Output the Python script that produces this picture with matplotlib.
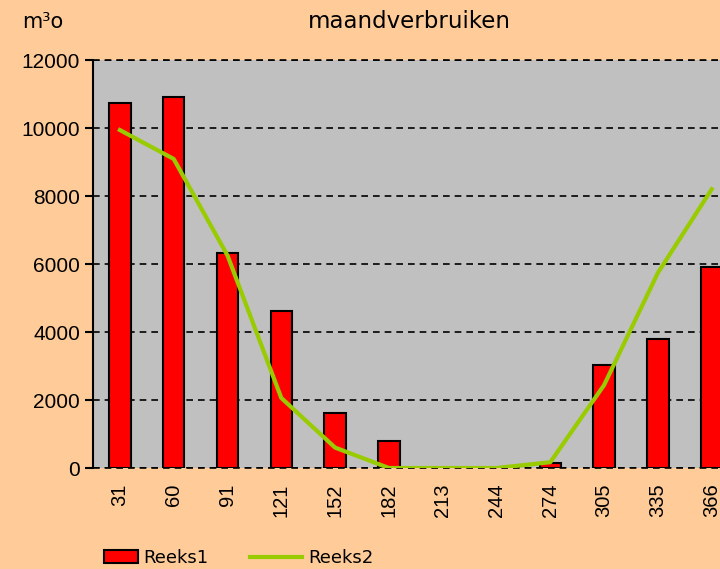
import numpy as np
import matplotlib
matplotlib.use('Agg')
import matplotlib.pyplot as plt
from matplotlib.patches import Patch
from matplotlib.lines import Line2D

# day-of-year labels and monthly consumption
days = ['31', '60', '91', '121', '152', '182', '213', '244', '274', '305', '335', '366']
reeks1 = [10750, 10920, 6320, 4620, 1620, 790, 0, 0, 150, 3030, 3790, 5910]
reeks2 = [9940, 9090, 6250, 2060, 600, 0, 0, 0, 170, 2440, 5740, 8200]

peach = '#FFCC99'
grey = '#C0C0C0'
red = '#FF0000'
green = '#99CC00'

fig = plt.figure(figsize=(7.2, 5.69), dpi=100, facecolor=peach)
ax = fig.add_axes([93 / 720, 1 - 468 / 569, 12 * 53.8 / 720, 408 / 569])
ax.set_facecolor(grey)

x = np.arange(len(days))
ax.bar(x, reeks1, width=0.4, color=red, edgecolor='black', linewidth=1.5, zorder=3)
ax.plot(x, reeks2, color=green, linewidth=3, zorder=4)

ax.set_xlim(-0.5, len(days) - 0.5)
ax.set_ylim(0, 12000)
ax.set_yticks(np.arange(0, 12001, 2000))
ax.set_xticks(x)
ax.set_xticklabels(days, rotation=90, fontsize=14.5, family='Liberation Sans')
ax.tick_params(axis='x', length=0, pad=11)
ax.tick_params(axis='y', direction='out', length=5.8, width=1.5, labelsize=15, pad=3.6)
for lbl in ax.get_yticklabels():
    lbl.set_family('Liberation Sans')

ax.yaxis.grid(True, color='black', linestyle=(0, (4, 3)), linewidth=1.2, zorder=1)
ax.set_axisbelow(True)
for s in ['top', 'right', 'bottom']:
    ax.spines[s].set_visible(False)
ax.spines['left'].set_linewidth(1.5)
ax.axhline(0, color='black', linestyle=(0, (4, 3)), linewidth=1.2, zorder=2, clip_on=False)
ax.axhline(12000, color='black', linestyle=(0, (4, 3)), linewidth=1.2, zorder=2, clip_on=False)

fig.text(409 / 720, 1 - 22 / 569, 'maandverbruiken', ha='center', va='center', fontsize=16.5, family='DejaVu Sans')
fig.text(22 / 720, 1 - 22 / 569, 'm³o', ha='left', va='center', fontsize=15, family='DejaVu Sans')

# two one-entry legends so the patch and the line can have different lengths
leg_prop = {'family': 'DejaVu Sans', 'size': 13}
fig.legend([Patch(facecolor=red, edgecolor='black', linewidth=1.5)], ['Reeks1'],
           loc='center left', bbox_to_anchor=(104 / 720, 1 - 558 / 569), frameon=False,
           prop=leg_prop, handlelength=1.9, handletextpad=0.3, borderpad=0, borderaxespad=0)
fig.legend([Line2D([], [], color=green, linewidth=3)], ['Reeks2'],
           loc='center left', bbox_to_anchor=(250 / 720, 1 - 558 / 569), frameon=False,
           prop=leg_prop, handlelength=2.9, handletextpad=0.3, borderpad=0, borderaxespad=0)

fig.savefig('out.png', dpi=100, facecolor=peach)
